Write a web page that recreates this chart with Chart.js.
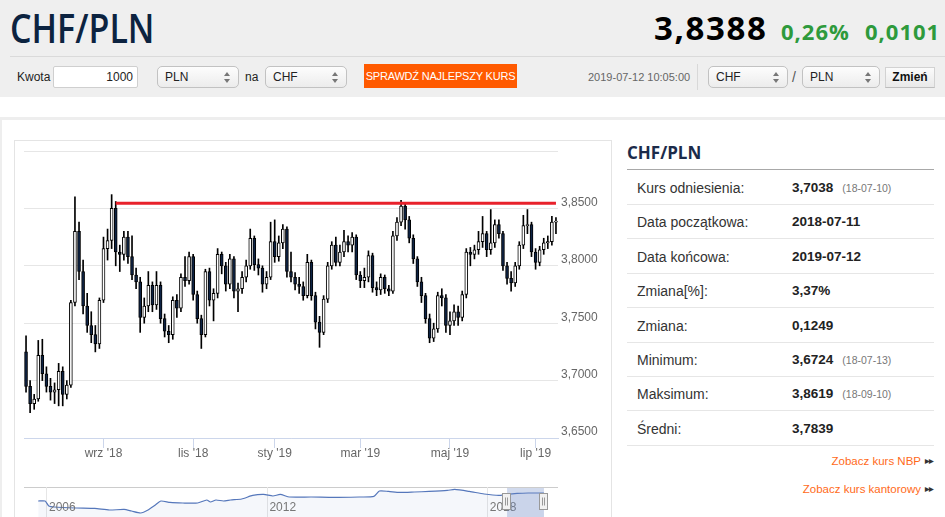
<!DOCTYPE html>
<html lang="pl">
<head>
<meta charset="utf-8">
<title>CHF/PLN</title>
<script src="https://cdn.jsdelivr.net/npm/chart.js@4.4.1/dist/chart.umd.min.js"></script>
<style>
body{margin:0;width:945px;height:517px;overflow:hidden;background:#fff;position:relative;
  font-family:"Liberation Sans",Arial,sans-serif;color:#222}
.a{position:absolute;white-space:nowrap}
#top{left:0;top:0;width:945px;height:97px;background:#efefef}
#title{left:10px;top:8px;font:600 40px/40px "Open Sans",sans-serif;color:#0c2340;transform-origin:0 0;transform:scaleX(0.85)}
#rate{left:654px;top:11px;font:700 33px/33px "Open Sans",sans-serif;color:#000;letter-spacing:1.6px}
.chg{top:20px;font:700 22px/22px "Open Sans",sans-serif;color:#2e9a3c;letter-spacing:1px}
#sep1{left:10px;top:56px;width:935px;height:1px;background:#dadada}
.lbl{font-size:12px;line-height:22px;top:66px;color:#222}
.inp{top:66px;height:22px;box-sizing:border-box;border:1px solid #cfcfcf;border-radius:2px;background:#fff;
  font-size:12px;line-height:20px;text-align:right;padding-right:4px}
.sel{top:66px;height:22px;box-sizing:border-box;border:1px solid #c2c2c2;border-radius:5px;
  background:linear-gradient(#fdfdfd,#ececec);font-size:12px;line-height:20px;padding-left:7px}
.sel i{position:absolute;right:8px;top:5px;width:6px;height:11px}
.sel i:before{content:"";position:absolute;left:0;top:0;border-left:3px solid transparent;border-right:3px solid transparent;border-bottom:4px solid #777}
.sel i:after{content:"";position:absolute;left:0;top:7px;border-left:3px solid transparent;border-right:3px solid transparent;border-top:4px solid #777}
#btn{left:364px;top:64px;width:153px;height:24px;background:#ff5a00;color:#fff;text-align:center;
  font:11px/24px "Liberation Sans Narrow","Liberation Sans",Arial,sans-serif;letter-spacing:-0.2px}
#stamp{left:588px;top:66px;font-size:11px;line-height:22px;color:#666}
#vsep{left:697px;top:64px;width:1px;height:26px;background:#d8d8d8}
#zm{left:885px;top:67px;width:50px;height:21px;box-sizing:border-box;border:1px solid #d2d2d2;border-bottom-color:#bdbdbd;
  background:linear-gradient(#fbfbfb,#e9e9e9);font:700 12px/19px "Liberation Sans",Arial,sans-serif;text-align:center;color:#111}
#frameTop{left:0;top:117px;width:945px;height:3px;background:#eeeeee}
#frameLeft{left:0;top:117px;width:2px;height:400px;background:#eeeeee}
#panel{left:14px;top:140px;width:598px;height:400px;box-sizing:border-box;border:1px solid #e4e4e4}
#mainChart{left:14px;top:140px}
#navChart{left:24px;top:487px}
#navTop{left:24px;top:487px;width:534px;height:1px;background:#cccccc}
#side h2{position:absolute;left:627px;top:141px;margin:0;font:700 17px/24px "Open Sans",sans-serif;color:#1c2b4a}
#sideLine{left:627px;top:169px;width:307px;height:1px;background:#a8a8a8}
.row{left:627px;width:307px;height:34px;box-sizing:border-box;border-bottom:1px solid #e6e6e6}
.row span{position:absolute;top:0;line-height:34px}
.row .k{left:10px;font-size:14px;color:#333}
.row .v{left:165px;font-size:13.5px;font-weight:700;color:#222}
.row .v small{font-size:10.5px;font-weight:400;color:#777;margin-left:9px}
.lnk{right:12px;font-size:11.5px;color:#ff6a1a}
.lnk b{font-size:6px;color:#333;margin-left:4px;vertical-align:2px;letter-spacing:-1px}
</style>
</head>
<body>
<div id="top" class="a"></div>
<div id="title" class="a">CHF/PLN</div>
<div id="rate" class="a">3,8388</div>
<div class="a chg" style="left:781px">0,26%</div>
<div class="a chg" style="left:865px">0,0101</div>
<div id="sep1" class="a"></div>

<div class="a lbl" style="left:17px">Kwota</div>
<div class="a inp" style="left:53px;width:85px">1000</div>
<div class="a sel" style="left:157px;width:82px">PLN<i></i></div>
<div class="a lbl" style="left:245px">na</div>
<div class="a sel" style="left:265px;width:82px">CHF<i></i></div>
<div id="btn" class="a">SPRAWDŹ NAJLEPSZY KURS</div>
<div id="stamp" class="a">2019-07-12 10:05:00</div>
<div id="vsep" class="a"></div>
<div class="a sel" style="left:708px;width:80px">CHF<i></i></div>
<div class="a lbl" style="left:792px;font-size:14px;color:#555">/</div>
<div class="a sel" style="left:802px;width:78px">PLN<i></i></div>
<div id="zm" class="a">Zmień</div>

<div id="frameTop" class="a"></div>
<div id="frameLeft" class="a"></div>
<div id="panel" class="a"></div>
<canvas id="mainChart" class="a" width="598" height="330"></canvas>
<div id="navTop" class="a"></div>
<canvas id="navChart" class="a" width="534" height="40"></canvas>

<div id="side">
  <h2>CHF/PLN</h2>
  <div id="sideLine" class="a"></div>
  <div id="rows"></div>
  <div class="a lnk" style="top:455px">Zobacz kurs NBP<b>▶▶</b></div>
  <div class="a lnk" style="top:483px">Zobacz kurs kantorowy<b>▶▶</b></div>
</div>

<script>
// candles, 2 sessions each, from 2018-07-11
const opens = [
  3.725,3.695,3.680,3.684,3.722,3.706,3.695,3.690,3.692,3.708,
  3.688,3.696,3.768,3.830,3.795,3.765,3.748,3.740,3.732,3.770,
  3.815,3.822,3.850,3.812,3.810,3.825,3.808,3.792,3.786,3.755,
  3.765,3.783,3.766,3.783,3.754,3.743,3.740,3.770,3.763,3.790,
  3.787,3.808,3.775,3.754,3.740,3.795,3.770,3.776,3.810,3.800,
  3.784,3.806,3.778,3.780,3.790,3.800,3.824,3.801,3.798,3.784,
  3.790,3.821,3.808,3.820,3.832,3.795,3.790,3.784,3.782,3.774,
  3.803,3.774,3.751,3.742,3.771,3.800,3.818,3.803,3.812,3.821,
  3.818,3.825,3.792,3.787,3.790,3.809,3.781,3.779,3.790,3.780,
  3.778,3.826,3.838,3.852,3.840,3.824,3.806,3.786,3.774,3.754,
  3.737,3.745,3.774,3.772,3.748,3.752,3.760,3.755,3.775,3.812,
  3.810,3.814,3.821,3.828,3.814,3.820,3.836,3.828,3.800,3.789,
  3.785,3.800,3.818,3.835,3.836,3.812,3.803,3.814,3.820,3.821,
  3.838
];
const highs = [
  3.739,3.700,3.688,3.735,3.736,3.712,3.702,3.698,3.715,3.712,
  3.700,3.770,3.860,3.838,3.805,3.776,3.760,3.748,3.772,3.825,
  3.832,3.862,3.856,3.818,3.830,3.830,3.826,3.798,3.790,3.772,
  3.795,3.786,3.795,3.786,3.758,3.748,3.773,3.775,3.793,3.808,
  3.812,3.810,3.778,3.757,3.797,3.798,3.780,3.815,3.812,3.803,
  3.810,3.808,3.785,3.795,3.805,3.832,3.826,3.806,3.800,3.795,
  3.838,3.840,3.826,3.836,3.834,3.812,3.794,3.790,3.786,3.810,
  3.805,3.777,3.756,3.774,3.803,3.821,3.825,3.818,3.831,3.826,
  3.829,3.827,3.795,3.798,3.813,3.811,3.786,3.793,3.792,3.783,
  3.830,3.842,3.857,3.854,3.843,3.827,3.808,3.790,3.776,3.758,
  3.750,3.777,3.780,3.775,3.760,3.766,3.765,3.778,3.815,3.816,
  3.818,3.830,3.843,3.830,3.849,3.840,3.840,3.830,3.803,3.795,
  3.803,3.821,3.844,3.849,3.838,3.815,3.817,3.824,3.826,3.843,
  3.842
];
const lows = [
  3.690,3.672,3.675,3.682,3.700,3.690,3.683,3.680,3.678,3.678,
  3.684,3.694,3.765,3.788,3.758,3.742,3.733,3.725,3.728,3.768,
  3.805,3.815,3.800,3.795,3.805,3.802,3.788,3.780,3.742,3.750,
  3.760,3.760,3.762,3.750,3.738,3.733,3.736,3.755,3.760,3.782,
  3.784,3.770,3.750,3.728,3.738,3.765,3.752,3.772,3.793,3.778,
  3.780,3.772,3.760,3.776,3.786,3.797,3.796,3.792,3.777,3.780,
  3.788,3.803,3.804,3.815,3.790,3.786,3.779,3.776,3.770,3.772,
  3.770,3.745,3.729,3.740,3.768,3.797,3.800,3.800,3.808,3.812,
  3.812,3.788,3.781,3.781,3.786,3.777,3.774,3.775,3.776,3.774,
  3.776,3.822,3.835,3.832,3.820,3.802,3.782,3.768,3.750,3.733,
  3.734,3.742,3.765,3.742,3.740,3.748,3.748,3.752,3.772,3.800,
  3.806,3.810,3.816,3.808,3.810,3.816,3.824,3.796,3.784,3.778,
  3.782,3.797,3.815,3.828,3.808,3.797,3.800,3.810,3.815,3.818,
  3.828
];
const closes = [
  3.695,3.680,3.684,3.722,3.706,3.695,3.690,3.692,3.708,3.688,
  3.696,3.768,3.830,3.795,3.765,3.748,3.740,3.732,3.770,3.815,
  3.822,3.850,3.812,3.810,3.825,3.808,3.792,3.786,3.755,3.765,
  3.783,3.766,3.783,3.754,3.743,3.740,3.770,3.763,3.790,3.787,
  3.808,3.775,3.754,3.740,3.795,3.770,3.776,3.810,3.800,3.784,
  3.806,3.778,3.780,3.790,3.800,3.824,3.801,3.798,3.784,3.790,
  3.821,3.808,3.820,3.832,3.795,3.790,3.784,3.782,3.774,3.803,
  3.774,3.751,3.742,3.771,3.800,3.818,3.803,3.812,3.821,3.818,
  3.825,3.792,3.787,3.790,3.809,3.781,3.779,3.790,3.780,3.778,
  3.826,3.838,3.852,3.840,3.824,3.806,3.786,3.774,3.754,3.737,
  3.745,3.774,3.772,3.748,3.752,3.760,3.755,3.775,3.812,3.810,
  3.814,3.821,3.828,3.814,3.820,3.836,3.828,3.800,3.789,3.785,
  3.800,3.818,3.835,3.836,3.812,3.803,3.814,3.820,3.821,3.838,
  3.839
];
const firstSession = '2018-07-11';
const noSessionDays = ['2018-12-25', '2018-12-26', '2019-01-01'];
const monthNames = ['sty','lut','mar','kwi','maj','cze','lip','sie','wrz','paź','lis','gru'];
const yTicks = [3.65, 3.70, 3.75, 3.80, 3.85, 3.90];
const redLevel = 3.8545;
const redFrom = 22;

// navigator (whole history)
const navYears = [2005.76,2005.95,2006.05,2006.2,2006.8,2007.3,2007.7,2008.1,2008.3,2008.55,
  2008.75,2008.95,2009.1,2009.35,2009.7,2010.1,2010.35,2010.45,2010.6,2010.8,
  2011.0,2011.3,2011.6,2011.9,2012.15,2012.35,2012.6,2013.2,2013.8,2014.5,
  2014.9,2015.05,2015.3,2015.6,2016.0,2016.4,2016.9,2017.1,2017.5,2017.9,
  2018.3,2018.5,2018.8,2019.1,2019.53];
const navValues = [3.08,3.08,2.63,2.54,2.45,2.41,2.27,2.32,2.18,2.00,
  2.27,2.72,3.08,2.95,2.90,2.90,3.17,2.99,3.17,3.08,
  3.17,3.26,3.58,3.67,3.53,3.67,3.44,3.44,3.40,3.44,
  3.49,3.98,3.94,3.85,3.89,3.94,4.03,4.12,3.94,3.71,
  3.58,3.67,3.76,3.80,3.80];
const navLabelYears = [2006, 2012, 2018];
const navSelection = [2018.525, 2019.53];

// side table
const statLabels = ['Kurs odniesienia:','Data początkowa:','Data końcowa:','Zmiana[%]:','Zmiana:','Minimum:','Maksimum:','Średni:'];
const statValues = ['3,7038','2018-07-11','2019-07-12','3,37%','0,1249','3,6724','3,8619','3,7839'];
const statDates = ['18-07-10','','','','','18-07-13','18-09-10',''];

const rows = document.getElementById('rows');
statLabels.forEach((l, i) => {
  const r = document.createElement('div');
  r.className = 'a row';
  r.style.top = (171 + i * 34.4) + 'px';
  r.innerHTML = '<span class="k">' + l + '</span><span class="v">' + statValues[i] +
    (statDates[i] ? '<small>(' + statDates[i] + ')</small>' : '') + '</span>';
  rows.appendChild(r);
});

// session dates, one label per candle (2 sessions)
const candleDates = [];
{
  const d = new Date(firstSession + 'T00:00:00Z');
  let n = 0;
  while (candleDates.length < closes.length) {
    const iso = d.toISOString().slice(0, 10);
    const wd = d.getUTCDay();
    if (wd !== 0 && wd !== 6 && !noSessionDays.includes(iso)) {
      if (n % 2 === 0) candleDates.push(iso);
      n++;
    }
    d.setUTCDate(d.getUTCDate() + 1);
  }
}
const monthOf = s => +s.slice(5, 7) - 1;
const tickIdx = candleDates.map((s, i) => i).filter(i =>
  i > 0 && monthOf(candleDates[i]) !== monthOf(candleDates[i - 1]) && monthOf(candleDates[i]) % 2 === 0);

const bodies = opens.map((o, i) => [o, closes[i]]);
const wicks = lows.map((l, i) => [l, highs[i]]);
const redLine = candleDates.map((_, i) => i >= redFrom ? redLevel : null);

new Chart(document.getElementById('mainChart'), {
  type: 'bar',
  data: {
    labels: candleDates,
    datasets: [
      {type: 'line', data: redLine, borderColor: '#e8212b', borderWidth: 3, pointRadius: 0, order: 0},
      {data: bodies, grouped: false, order: 1, barThickness: 3, borderWidth: 1, borderSkipped: false,
       borderColor: '#000',
       backgroundColor: closes.map((c, i) => c >= opens[i] ? '#ffffff' : '#0e2344')},
      {data: wicks, grouped: false, order: 2, barThickness: 1, backgroundColor: '#000'}
    ]
  },
  options: {
    responsive: false, animation: false,
    layout: {padding: {left: 10, top: 11, right: 0, bottom: 0}},
    plugins: {legend: {display: false}, tooltip: {enabled: false}},
    scales: {
      x: {
        afterBuildTicks: s => { s.ticks = s.ticks.filter(t => tickIdx.includes(t.value)); },
        afterFit: s => { s.height = 32; },
        border: {color: '#ccd6eb'},
        grid: {drawOnChartArea: false, offset: false, tickLength: 10, color: '#ccd6eb'},
        ticks: {autoSkip: false, maxRotation: 0, padding: -2, color: '#666',
          font: {family: 'Liberation Sans', size: 12},
          callback: function (v) {
            const s = this.getLabelForValue(v);
            return monthNames[monthOf(s)] + " '" + s.slice(2, 4);
          }}
      },
      y: {
        position: 'right', min: yTicks[0], max: yTicks[yTicks.length - 1],
        afterBuildTicks: s => { s.ticks = yTicks.map(v => ({value: v})); },
        afterFit: s => { s.width = 54; },
        border: {display: false},
        grid: {color: '#e6e6e6', drawTicks: false},
        ticks: {padding: 3, labelOffset: -6, color: '#666', font: {family: 'Liberation Sans', size: 12},
          callback: v => v >= yTicks[yTicks.length - 1] ? '' : v.toFixed(4).replace('.', ',')}
      }
    }
  }
});

// navigator: year labels, selected range and handles
const navMask = {
  id: 'navMask',
  afterDatasetsDraw(chart) {
    const {ctx, chartArea: a, scales: {x}} = chart;
    ctx.save();
    ctx.fillStyle = '#777';
    ctx.font = '12px "Liberation Sans", Arial, sans-serif';
    ctx.textBaseline = 'middle';
    navLabelYears.forEach(y => ctx.fillText(String(y), x.getPixelForValue(y) + 2, 21));
    const x0 = x.getPixelForValue(navSelection[0]), x1 = x.getPixelForValue(navSelection[1]);
    ctx.fillStyle = 'rgba(102,133,194,0.3)';
    ctx.fillRect(x0, a.top + 1, x1 - x0, a.bottom - a.top);
    [x0, x1].forEach(hx => {
      const l = Math.round(hx) - 4.5, t = 6.5;
      ctx.fillStyle = '#f2f2f2'; ctx.strokeStyle = '#999'; ctx.lineWidth = 1;
      ctx.fillRect(l, t, 8, 16); ctx.strokeRect(l, t, 8, 16);
      ctx.beginPath();
      ctx.moveTo(l + 3, t + 4); ctx.lineTo(l + 3, t + 12);
      ctx.moveTo(l + 5, t + 4); ctx.lineTo(l + 5, t + 12);
      ctx.stroke();
    });
    ctx.restore();
  }
};

new Chart(document.getElementById('navChart'), {
  type: 'line',
  data: {
    datasets: [{
      data: navYears.map((y, i) => ({x: y, y: navValues[i]})),
      borderColor: '#5577bb', borderWidth: 1.2, pointRadius: 0, tension: 0.2,
      fill: 'start', backgroundColor: 'rgba(51,92,173,0.05)'
    }]
  },
  options: {
    responsive: false, animation: false,
    layout: {padding: 0},
    plugins: {legend: {display: false}, tooltip: {enabled: false}},
    scales: {
      x: {
        type: 'linear', min: 2005.374, max: 2019.912,
        afterBuildTicks: s => { s.ticks = navLabelYears.map(v => ({value: v})); },
        border: {display: false},
        grid: {color: '#e6e6e6', drawTicks: false},
        ticks: {display: false}
      },
      y: {display: false, min: 0.74, max: 4.34}
    }
  },
  plugins: [navMask]
});
</script>
</body>
</html>
